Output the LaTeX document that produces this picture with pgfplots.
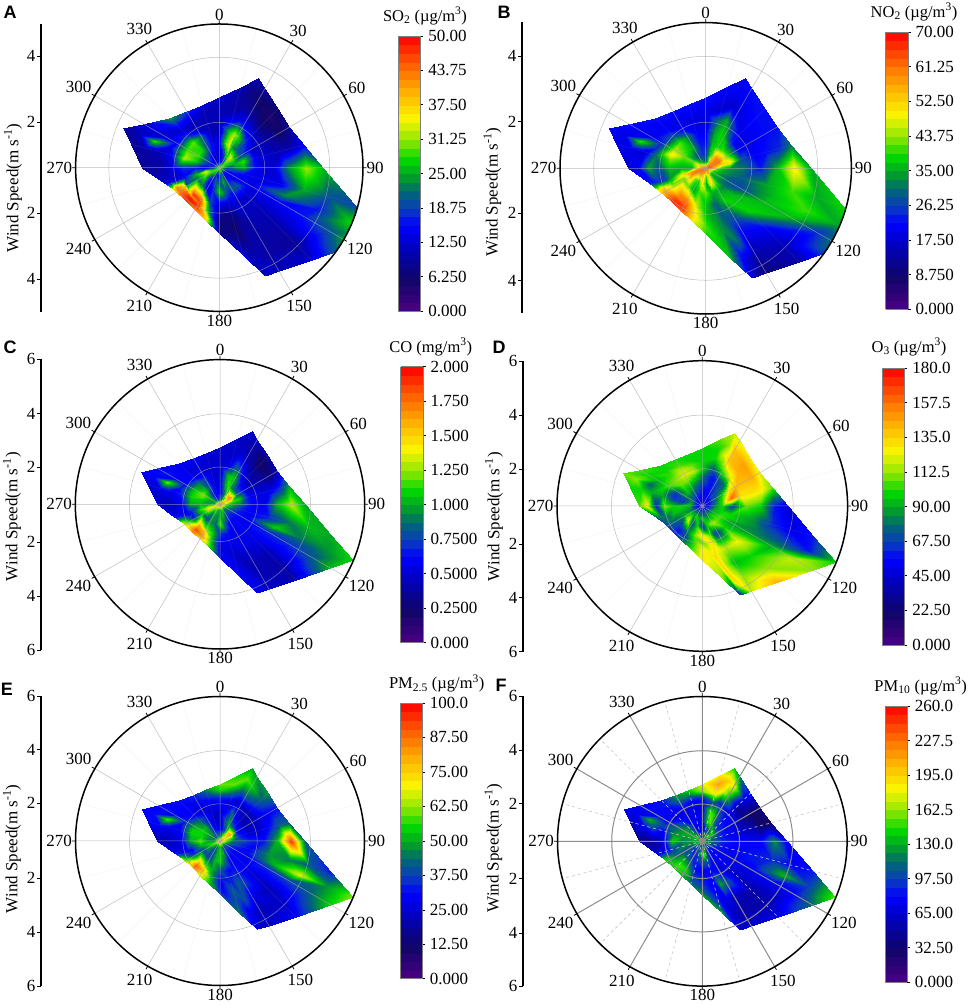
\documentclass[border=0pt]{standalone}
\usepackage{fontspec}
\setmainfont{Liberation Serif}
\newfontfamily\labfont{Liberation Sans}
\usepackage{pgfplots}
\usepackage{pgfplotstable}
\usepgfplotslibrary{polar}
\pgfplotsset{compat=1.18}
% dir = wind direction, rho = drawn radius (speed scale of the figure is not linear)
% a..f = SO2, NO2, CO, O3, PM2.5, PM10, in percent of each colour bar
\pgfplotstableread{
dir rho a b c d e f
0 0 60 92 85 25 78 45
0 6 25 45 40 30 45 35
0 12 25 38 30 32 28 30
0 20 30 33 28 35 25 30
0 30 22 30 25 45 25 28
0 36.9 22 27 25 55 30 28
0 43.9 22 27 25 55 35 35
0 50.8 22 30 25 55 55 62
0 57.7 25 32 25 55 60 68
15 0 60 92 85 25 78 45
15 6 30 60 45 30 50 50
15 12 35 55 40 28 35 35
15 20 62 52 50 32 42 55
15 30 55 50 52 33 32 60
15 39.7 30 45 30 42 25 40
15 49.4 20 25 25 55 42 70
15 59.1 20 28 25 55 60 82
15 68.8 22 30 25 60 55 72
23.4 0 60 92 85 25 78 45
23.4 6 35 70 50 30 60 55
23.4 12 50 60 50 30 40 40
23.4 20 68 55 58 33 50 60
23.4 30 65 55 55 33 45 55
23.4 42.5 30 50 40 55 25 35
23.4 55 18 25 25 68 42 68
23.4 67.4 15 30 22 62 60 75
23.4 79.9 20 30 25 66 50 55
30 0 60 92 85 25 78 45
30 6 40 78 55 28 65 52
30 12 55 75 60 33 55 42
30 20 50 55 50 35 42 50
30 30 58 52 50 38 30 42
30 41.2 30 40 35 60 25 35
30 52.3 18 27 22 78 42 55
30 63.5 12 30 20 78 55 70
30 74.6 18 32 25 68 48 45
45 0 60 92 85 25 78 45
45 6 58 85 70 28 70 55
45 12 68 85 82 38 80 57
45 20 40 58 40 40 35 35
45 30 35 32 28 45 22 32
45 39.5 25 28 22 68 22 28
45 49 14 30 16 80 35 18
45 58.4 9 32 10 82 42 28
45 67.9 14 32 18 72 48 32
60 0 60 92 85 25 78 45
60 6 55 88 72 28 70 50
60 12 58 88 85 40 80 50
60 20 40 60 42 52 30 35
60 30 25 30 25 70 22 30
60 39.1 22 28 22 78 22 25
60 48.2 18 30 20 78 28 15
60 57.3 12 32 15 80 30 10
60 66.4 18 32 22 68 32 14
75 0 60 92 85 25 78 45
75 6 50 85 70 30 65 45
75 12 50 78 60 42 55 40
75 20 58 72 55 58 35 33
75 30 28 40 30 90 25 30
75 40.4 25 30 28 72 25 25
75 50.9 22 32 28 72 32 22
75 61.3 22 35 35 70 42 12
75 71.7 30 45 50 60 42 10
90 0 60 92 85 25 78 45
90 6 35 80 60 33 60 50
90 12 45 55 50 45 45 40
90 20 50 48 45 55 40 35
90 30 30 45 32 38 35 32
90 43.8 25 33 28 60 33 30
90 57.6 48 52 52 55 52 30
90 71.4 63 72 65 33 95 48
90 85.2 52 50 50 25 42 28
105 0 60 92 85 25 78 45
105 6 35 60 55 35 50 45
105 12 35 50 45 50 40 38
105 20 30 45 35 55 35 32
105 30 28 42 30 55 30 30
105 51.2 28 50 35 48 48 33
105 72.3 50 58 45 35 45 35
105 93.5 40 50 52 28 40 30
105 114.6 38 55 50 33 33 33
112.8 0 60 92 85 25 78 45
112.8 6 30 55 50 38 45 42
112.8 12 33 48 42 52 35 35
112.8 20 30 42 33 57 32 32
112.8 30 28 40 30 55 32 30
112.8 58.7 48 52 55 45 52 33
112.8 87.3 33 58 45 38 68 52
112.8 116 55 50 48 33 48 38
112.8 144.6 60 55 55 55 62 60
120 0 60 92 85 25 78 45
120 6 28 55 48 38 45 42
120 12 30 50 40 50 35 33
120 20 28 42 32 58 30 30
120 30 27 38 28 50 28 28
120 54.4 30 52 35 48 35 28
120 78.9 33 52 35 50 38 30
120 103.3 40 35 40 66 42 30
120 127.7 55 50 52 62 55 45
135 0 60 92 85 25 78 45
135 6 28 50 45 40 40 38
135 12 30 48 35 55 33 30
135 20 40 45 30 60 30 30
135 30 25 52 30 55 30 28
135 49.3 22 55 28 70 25 24
135 68.6 20 30 22 55 22 20
135 87.9 18 22 20 62 24 20
135 107.2 25 20 22 80 30 28
150 0 60 92 85 25 78 45
150 6 30 62 45 40 40 40
150 12 33 62 38 50 35 32
150 20 42 50 30 65 30 30
150 30 25 55 28 38 32 28
150 47 22 38 28 65 38 42
150 64.1 20 28 22 52 28 22
150 81.1 20 20 22 62 22 20
150 98.1 22 14 24 66 24 25
157.2 0 60 92 85 25 78 45
157.2 6 35 72 50 42 40 40
157.2 12 45 70 42 48 38 35
157.2 20 35 50 32 62 32 33
157.2 30 28 48 28 40 32 28
157.2 46.6 18 40 28 68 42 50
157.2 63.2 20 45 22 62 40 28
157.2 79.7 22 28 28 75 28 24
157.2 96.3 25 25 30 35 26 25
165 0 60 92 85 25 78 45
165 6 45 72 55 40 45 45
165 12 50 72 50 50 50 48
165 20 40 50 40 55 42 40
165 30 25 42 30 60 30 30
165 41.1 15 45 28 72 33 30
165 52.2 12 48 25 74 42 30
165 63.3 18 50 28 66 40 35
165 74.4 28 52 32 62 45 48
180 0 60 92 85 25 78 45
180 6 35 60 50 33 50 50
180 12 40 50 52 55 55 70
180 20 55 60 60 36 55 42
180 30 28 52 35 72 40 30
180 35.9 18 52 30 60 32 33
180 41.8 15 55 28 70 30 35
180 47.7 12 58 28 72 30 40
180 53.6 15 55 30 72 38 50
195 0 60 92 85 25 78 45
195 6 30 70 50 40 50 40
195 12 42 70 45 50 50 45
195 20 35 58 42 55 52 35
195 30 38 65 55 62 50 32
195 33.6 45 70 55 58 50 35
195 37.2 50 72 55 56 52 38
195 40.7 72 72 58 56 52 40
195 44.3 72 70 55 58 52 42
210 0 60 92 85 25 78 45
210 6 35 78 55 40 45 40
210 12 32 55 50 55 40 35
210 20 25 50 48 40 40 35
210 30 88 85 65 45 62 50
210 32.5 92 88 78 42 72 55
210 35.1 92 92 82 40 78 55
210 37.6 95 95 80 42 72 52
210 40.1 82 90 72 45 66 52
225 0 60 92 85 25 78 45
225 6 50 82 60 38 48 40
225 12 35 60 45 50 40 35
225 20 45 60 38 68 38 40
225 30 95 85 80 36 78 55
225 32.3 85 85 85 33 85 58
225 34.5 97 92 92 33 90 58
225 36.8 98 95 90 33 88 58
225 39 95 95 85 35 80 56
245.7 0 60 92 85 25 78 45
245.7 6 58 88 65 40 60 50
245.7 12 62 85 68 50 52 42
245.7 20 45 60 50 50 40 40
245.7 30 38 60 32 45 33 42
245.7 33 70 65 40 45 38 45
245.7 36 80 72 48 45 45 48
245.7 39 85 75 55 42 50 52
245.7 42 70 70 62 40 58 55
255 0 60 92 85 25 78 45
255 6 55 88 70 33 60 48
255 12 68 85 68 45 55 45
255 20 52 72 58 50 50 48
255 30 30 48 32 52 30 38
255 34.3 25 38 28 45 30 33
255 38.7 25 35 28 45 28 30
255 43 25 33 28 45 28 28
255 47.3 25 33 30 42 30 28
270 0 60 92 85 25 78 45
270 6 40 80 55 30 50 52
270 12 30 50 50 50 50 48
270 20 33 50 52 55 60 45
270 30 35 52 50 55 50 55
270 38.3 28 40 30 62 30 30
270 46.7 20 50 25 35 25 20
270 55 18 30 22 70 22 15
270 63.3 18 26 25 58 22 18
285 0 60 92 85 25 78 45
285 6 35 72 50 30 45 52
285 12 35 55 48 50 45 50
285 20 55 55 55 35 55 48
285 30 65 62 55 36 55 48
285 41.3 30 45 33 50 30 30
285 52.5 22 25 28 50 28 38
285 63.8 20 28 28 55 30 28
285 75 18 28 25 55 30 24
292.5 0 60 92 85 25 78 45
292.5 6 30 70 48 30 45 50
292.5 12 38 58 50 48 48 50
292.5 20 55 58 60 40 55 50
292.5 30 62 72 55 35 55 45
292.5 43.8 28 35 32 55 30 38
292.5 57.6 58 58 62 42 60 52
292.5 71.4 22 28 30 62 32 28
292.5 85.2 18 30 30 60 30 28
300 0 60 92 85 25 78 45
300 6 30 75 48 28 45 52
300 12 40 60 52 45 50 52
300 20 58 60 62 48 55 50
300 30 58 65 52 42 50 42
300 40.6 30 35 32 58 35 30
300 51.2 25 28 30 52 30 30
300 61.8 28 30 33 55 32 32
300 72.4 25 32 30 58 30 30
315 0 60 92 85 25 78 45
315 6 28 58 42 28 40 55
315 12 35 45 40 40 45 48
315 20 55 55 52 52 50 45
315 30 60 58 45 60 42 32
315 37 35 40 30 62 30 28
315 44 25 30 28 58 30 30
315 51 35 30 28 55 30 33
315 58 50 33 30 55 32 33
330 0 60 92 85 25 78 45
330 6 25 50 35 28 40 42
330 12 30 40 30 35 35 35
330 20 40 50 38 48 35 32
330 30 42 45 35 62 32 28
330 35.9 25 32 28 68 25 28
330 41.9 22 28 26 66 28 35
330 47.8 28 30 28 58 32 45
330 53.7 35 32 30 56 34 48
345 0 60 92 85 25 78 45
345 6 25 45 35 28 42 38
345 12 25 35 30 33 30 30
345 20 28 33 26 40 25 30
345 30 22 30 25 55 25 28
345 35.9 22 27 25 66 28 28
345 41.9 22 28 25 60 30 30
345 47.8 22 30 25 55 38 45
345 53.7 25 32 26 55 48 55
360 0 60 92 85 25 78 45
360 6 25 45 40 30 45 35
360 12 25 38 30 32 28 30
360 20 30 33 28 35 25 30
360 30 22 30 25 45 25 28
360 36.9 22 27 25 55 30 28
360 43.9 22 27 25 55 35 35
360 50.8 22 30 25 55 55 62
360 57.7 25 32 25 55 60 68
}\gridtab
\pgfplotsset{
 colormap={rb}{rgb255(0)=(75,0,130); rgb255(12)=(15,5,105); rgb255(25)=(0,0,205); rgb255(31)=(0,0,255); rgb255(37)=(10,60,190); rgb255(43)=(0,100,120); rgb255(48)=(0,150,50); rgb255(55)=(0,215,0); rgb255(62)=(140,230,0); rgb255(70)=(250,245,0); rgb255(78)=(255,190,0); rgb255(88)=(255,110,0); rgb255(100)=(255,0,0)},
 panel/.style={scale only axis, axis on top, anchor=center,
  xmin=0, xmax=360, ymin=0,
  xtick={0,30,...,330},
  xticklabels={90,60,30,0,330,300,270,240,210,180,150,120},
  minor xtick={15,45,...,345},
  ytick={37.3,90.7}, yticklabels={},
  grid=both,
  major grid style={draw=gray!70,line width=0.5pt,draw opacity=0.75},
  minor grid style={draw=gray!60,line width=0.4pt,draw opacity=0.15},
  y tick style={draw=none},
  y axis line style={draw=none},
  tick align=inside,
  major tick length=3.5pt, minor tick length=0pt,
  x tick style={black,line width=0.8pt},
  axis line style={black,line width=1.5pt},
  tick label style={font=\fontsize{17}{19}\selectfont},
  colorbar sampled,
  colorbar style={samples=33, anchor=south west, width=22.4,
    at={(parent axis.center)},
    yticklabel pos=right, ytick pos=right, tick align=outside,
    major tick length=2.5pt,
    axis line style={gray,line width=0.6pt},
    y tick style={black,line width=.5pt},
    tick label style={font=\fontsize{17}{19}\selectfont},
    yticklabel style={xshift=1.5pt}},
 },
}
\newcommand\rose[2]{% options, meta expression
\begin{polaraxis}[panel,#1]
\addplot[surf, shader=interp, mesh/rows=29, mesh/cols=9, point meta={#2}]
 table[x expr=450-\thisrow{dir}, y=rho] {\gridtab};
\end{polaraxis}}
\newcommand\ruler[4]{% x, top, bottom, y/label list
\draw[line width=1.8pt] (#1,{1008-#2}) -- (#1,{1008-#3});
\foreach \yy/\ll in {#4} {
  \draw[line width=0.9pt] (#1,{1008-\yy}) -- ++(-4,0);
  \node[anchor=east,inner sep=0pt,font=\fontsize{17}{19}\selectfont] at ({#1-5.5},{1008-\yy}) {\ll};
}}
\newcommand\windlabel[2]{\node[rotate=90,inner sep=0pt,font=\fontsize{17}{19}\selectfont] at (#1,{1008-#2}) {Wind Speed(m s\textsuperscript{-1})};}
\newcommand\bartitle[3]{\node[inner sep=0pt,font=\fontsize{16.5}{19}\selectfont] at (#1,{1008-#2}) {#3};}
\newcommand\letter[3]{\node[inner sep=0pt,font=\labfont\bfseries\fontsize{18}{20}\selectfont] at (#1,{1008-#2}) {#3};}
\begin{document}
\begin{tikzpicture}[x=1pt,y=1pt]
\path[use as bounding box] (0,0) rectangle (969,1008);
% A
\rose{at={(219.3pt,840.3pt)}, width=287.4pt, height=287.4pt, ymax=118,
  point meta min=0, point meta max=50,
  colorbar style={xshift=170.5pt, yshift=-143.3pt, height=275pt,
    ytick={0,6.25,...,50}, yticklabels={0.000,6.250,12.50,18.75,25.00,31.25,37.50,43.75,50.00}}}
 {\thisrow{a}*0.5}
\ruler{41}{24}{312}{56/4,122/2,213/2,279/4}
\windlabel{13}{188}
\bartitle{425}{16}{SO\textsubscript{2} (µg/m\textsuperscript{3})}
\letter{10}{12}{A}
% B
\rose{at={(705.7pt,839.7pt)}, width=291.4pt, height=291.4pt, ymax=118,
  point meta min=0, point meta max=70,
  colorbar style={xshift=171.5pt, yshift=-141pt, height=277.3pt,
    ytick={0,8.75,...,70}, yticklabels={0.000,8.750,17.50,26.25,35.00,43.75,52.50,61.25,70.00}}}
 {\thisrow{b}*0.7}
\ruler{522}{22}{313}{56/4,121.7/2,213.3/2,280.7/4}
\windlabel{492.3}{192}
\bartitle{914}{12}{NO\textsubscript{2} (µg/m\textsuperscript{3})}
\letter{504}{12}{B}
% C
\rose{at={(220pt,503.7pt)}, width=289.4pt, height=289.4pt, ymax=145,
  point meta min=0, point meta max=2,
  colorbar style={xshift=172.2pt, yshift=-138.4pt, height=276pt,
    ytick={0,0.25,...,2}, yticklabels={0.000,0.2500,0.5000,0.7500,1.000,1.250,1.500,1.750,2.000}}}
 {\thisrow{c}*0.02}
\ruler{41}{359}{650}{359/6,413.7/4,467/2,542.3/2,596/4,650/6}
\windlabel{12}{516.7}
\bartitle{430.7}{347}{CO (mg/m\textsuperscript{3})}
\letter{10}{347}{C}
% D
\rose{at={(702.3pt,502pt)}, width=290.6pt, height=290.6pt, ymax=145,
  point meta min=0, point meta max=180,
  colorbar style={xshift=171.5pt, yshift=-139pt, height=277pt,
    ytick={0,22.5,...,180}, yticklabels={0.000,22.50,45.00,67.50,90.00,112.5,135.0,157.5,180.0}}}
 {\thisrow{d}*1.8}
\ruler{523}{361}{651.7}{361/6,415/4,469/2,544/2,597.7/4,651.7/6}
\windlabel{494}{516.7}
\bartitle{909}{347}{O\textsubscript{3} (µg/m\textsuperscript{3})}
\letter{499}{347}{D}
% E
\rose{at={(220pt,167pt)}, width=289pt, height=289pt, ymax=145,
  point meta min=0, point meta max=100,
  colorbar style={xshift=171.5pt, yshift=-137.7pt, height=275.7pt,
    ytick={0,12.5,...,100}, yticklabels={0.000,12.50,25.00,37.50,50.00,62.50,75.00,87.50,100.0}}}
 {\thisrow{e}}
\ruler{41}{696}{986}{696/6,749.7/4,803.3/2,878/2,932/4,986/6}
\windlabel{12}{848.7}
\bartitle{436.7}{683.7}{PM\textsubscript{2.5} (µg/m\textsuperscript{3})}
\letter{7}{689}{E}
% F
\rose{at={(702.3pt,166.7pt)}, width=289.6pt, height=289.6pt, ymax=145,
  point meta min=0, point meta max=260,
  major grid style={draw=gray!90,line width=1pt,draw opacity=1},
  minor grid style={draw=gray!45,line width=0.6pt,dashed,draw opacity=1},
  colorbar style={xshift=174.2pt, yshift=-140.7pt, height=276pt,
    ytick={0,32.5,...,260}, yticklabels={0.000,32.50,65.00,97.50,130.0,162.5,195.0,227.5,260.0}}}
 {\thisrow{f}*2.6}
\ruler{523}{696}{986.3}{696/6,750/4,803.7/2,878.7/2,933/4,986.3/6}
\windlabel{493.3}{848}
\bartitle{920.7}{686}{PM\textsubscript{10} (µg/m\textsuperscript{3})}
\letter{501}{685}{F}
\end{tikzpicture}
\end{document}
